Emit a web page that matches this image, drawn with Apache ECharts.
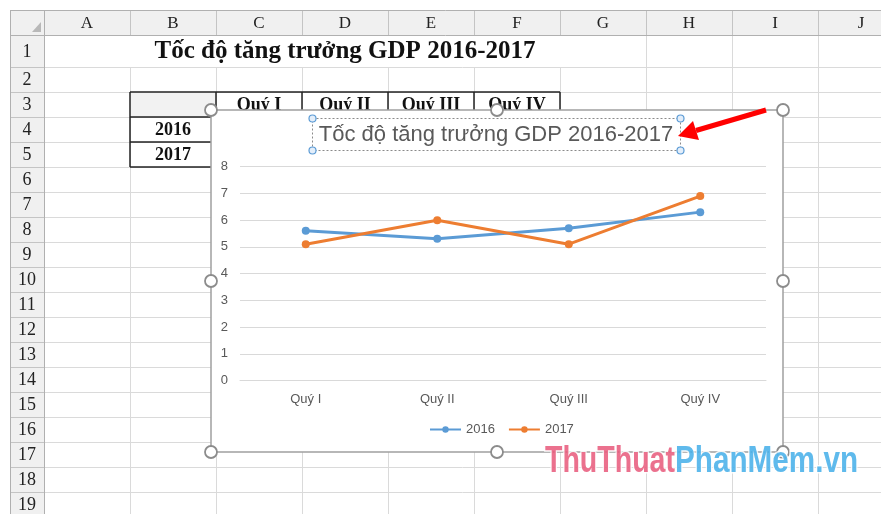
<!DOCTYPE html>
<html>
<head>
<meta charset="utf-8">
<script src="https://cdn.jsdelivr.net/npm/echarts@6/dist/echarts.min.js"></script>
<style>
  html, body { margin: 0; padding: 0; background: #fff; }
  #main { width: 881px; height: 514px; }
</style>
</head>
<body>
<div id="main"></div>
<script>
// chart data
var categories = ['Quý I', 'Quý II', 'Quý III', 'Quý IV'];
var seriesNames = ['2016', '2017'];
var gdp2016 = [5.6, 5.3, 5.7, 6.3];
var gdp2017 = [5.1, 6.0, 5.1, 6.9];
var yMin = 0, yMax = 8, yStep = 1;
var chartTitle = 'Tốc độ tăng trưởng GDP 2016-2017';

// sheet labels around the chart
var colLetters = ['A', 'B', 'C', 'D', 'E', 'F', 'G', 'H', 'I', 'J'];
var rowCount = 19;
var sheetTitle = 'Tốc độ tăng trưởng GDP 2016-2017';

var serif = '"Liberation Serif", "DejaVu Serif", serif';
var sans = '"Liberation Sans", Arial, sans-serif';

// sheet geometry
var hdrX = 10, hdrY = 10, rowHdrW = 34, colW = 86, hdrH = 25, row1H = 32, rowH = 25;
function colX(i) { return hdrX + rowHdrW + i * colW; }
function rowY(r) { return r === 1 ? hdrY + hdrH : hdrY + hdrH + row1H + (r - 2) * rowH; }

var els = [];
function line(x1, y1, x2, y2, color, w, z) {
    els.push({ type: 'line', z: z, silent: true,
        shape: { x1: x1, y1: y1, x2: x2, y2: y2 },
        style: { stroke: color, lineWidth: w } });
}
function rect(x, y, w, h, fill, z) {
    els.push({ type: 'rect', z: z, silent: true, shape: { x: x, y: y, width: w, height: h }, style: { fill: fill } });
}
function text(t, x, y, font, color, z, align) {
    els.push({ type: 'text', z: z, silent: true,
        style: { text: t, x: x, y: y, font: font, fill: color, textAlign: align || 'center', textVerticalAlign: 'middle' } });
}

// headers
rect(hdrX, hdrY, 881 - hdrX, hdrH, '#f0f0f0', -5);
rect(hdrX, hdrY + hdrH, rowHdrW, 514 - hdrY - hdrH, '#f0f0f0', -5);
els.push({ type: 'polygon', z: -4, silent: true, shape: { points: [[32, 32], [41, 32], [41, 22]] }, style: { fill: '#b8b8b8' } });

// grid lines
for (var r = 1; r <= rowCount; r++) {
    var yb = rowY(r + 1) + 0.5;
    line(colX(0), yb, 881, yb, '#dadada', 1, -4);
    line(hdrX, yb, colX(0), yb, '#c4c4c4', 1, -4);
    text(String(r), hdrX + rowHdrW / 2, rowY(r) + (r === 1 ? row1H : rowH) / 2 + 1, '18px ' + serif, '#222', -3);
}
for (var i = 0; i < colLetters.length; i++) {
    var xr = colX(i + 1) + 0.5;
    line(xr, hdrY, xr, hdrY + hdrH, '#c4c4c4', 1, -4);
    // row 1 is merged across A:G
    line(xr, i >= 6 ? rowY(1) : rowY(2), xr, 514, '#dadada', 1, -4);
    text(colLetters[i], colX(i) + colW / 2, hdrY + hdrH / 2 + 1, '17px ' + serif, '#222', -3);
}
line(hdrX, hdrY + 0.5, 881, hdrY + 0.5, '#b0b0b0', 1, -4);
line(hdrX + 0.5, hdrY, hdrX + 0.5, 514, '#b0b0b0', 1, -4);
line(hdrX, hdrY + hdrH + 0.5, 881, hdrY + hdrH + 0.5, '#b0b0b0', 1, -4);
line(colX(0) + 0.5, hdrY, colX(0) + 0.5, 514, '#b0b0b0', 1, -4);

// sheet title and the data table behind the chart
text(sheetTitle, (colX(0) + colX(7)) / 2, rowY(1) + row1H / 2 + 1, 'bold 25px ' + serif, '#111', -3);
rect(colX(1), rowY(3), colW, rowH, '#f2f2f2', -4);
for (var c = 0; c < categories.length; c++) {
    text(categories[c], colX(2 + c) + colW / 2, rowY(3) + rowH / 2 + 1, 'bold 18px ' + serif, '#111', -3);
}
for (var s = 0; s < seriesNames.length; s++) {
    text(seriesNames[s], colX(1) + colW / 2, rowY(4 + s) + rowH / 2 + 1, 'bold 18px ' + serif, '#111', -3);
}
line(colX(1), rowY(3), colX(6), rowY(3), '#222', 1.5, -3);
line(colX(1), rowY(4), colX(6), rowY(4), '#222', 1.5, -3);
line(colX(1), rowY(5), colX(2), rowY(5), '#222', 1.5, -3);
line(colX(1), rowY(6), colX(2), rowY(6), '#222', 1.5, -3);
line(colX(1), rowY(3), colX(1), rowY(6), '#222', 1.5, -3);
for (var k = 2; k <= 6; k++) line(colX(k), rowY(3), colX(k), rowY(6), '#222', 1.5, -3);

// chart area
var bx = 211, by = 110, bw = 572, bh = 342;
els.push({ type: 'rect', z: -1, silent: true, shape: { x: bx, y: by, width: bw, height: bh },
    style: { fill: '#fff', stroke: '#a0a0a0', lineWidth: 1.5 } });
[[0, 0], [0.5, 0], [1, 0], [0, 0.5], [1, 0.5], [0, 1], [0.5, 1], [1, 1]].forEach(function (p) {
    els.push({ type: 'circle', z: 10, silent: true, shape: { cx: bx + p[0] * bw, cy: by + p[1] * bh, r: 6 },
        style: { fill: '#fff', stroke: '#8c8c8c', lineWidth: 1.8 } });
});

// title with its selection box
text(chartTitle, 496, 135, '22px ' + sans, '#595959', 10);
els.push({ type: 'rect', z: 10, silent: true, shape: { x: 312.5, y: 118.5, width: 368, height: 32 },
    style: { fill: 'none', stroke: '#8a8a8a', lineWidth: 1, lineDash: [2, 2] } });
[[312.5, 118.5], [680.5, 118.5], [312.5, 150.5], [680.5, 150.5]].forEach(function (p) {
    els.push({ type: 'circle', z: 11, silent: true, shape: { cx: p[0], cy: p[1], r: 3.5 },
        style: { fill: '#e3eefa', stroke: '#5b9bd5', lineWidth: 1.2 } });
});

// red pointer
line(766, 110, 696, 130.5, '#ff0000', 5, 12);
els.push({ type: 'polygon', z: 12, silent: true, shape: { points: [[678, 136], [699, 140], [693, 121]] }, style: { fill: '#ff0000' } });

// watermark
var mctx = document.createElement('canvas').getContext('2d');
var wmFont = 'bold 36px ' + sans;
mctx.font = wmFont;
var wmParts = [['ThuThuat', '#e8587a', 545, 675], ['PhanMem.vn', '#43aee9', 675, 858]];
wmParts.forEach(function (p) {
    var sx = (p[3] - p[2]) / mctx.measureText(p[0]).width;
    els.push({ type: 'text', z: 12, silent: true, x: p[2], y: 462, scaleX: sx,
        style: { text: p[0], x: 0, y: 0, font: wmFont, fill: p[1], stroke: '#fff', lineWidth: 3,
            textAlign: 'left', textVerticalAlign: 'middle', opacity: 0.85 } });
});

var chart = echarts.init(document.getElementById('main'));
chart.setOption({
    backgroundColor: '#fff',
    animation: false,
    textStyle: { fontFamily: sans },
    graphic: { elements: els },
    legend: {
        data: seriesNames, left: 429, top: 423, padding: 0,
        itemWidth: 31, itemHeight: 8, itemGap: 13,
        textStyle: { color: '#595959', fontSize: 13 }
    },
    grid: { left: 240, right: 115, top: 166.7, bottom: 133.5 },
    xAxis: {
        type: 'category', data: categories, boundaryGap: true,
        axisLine: { lineStyle: { color: '#d9d9d9', width: 1 } },
        axisTick: { show: false },
        axisLabel: { color: '#595959', fontSize: 13, margin: 12 }
    },
    yAxis: {
        type: 'value', min: yMin, max: yMax, interval: yStep,
        axisLine: { show: false }, axisTick: { show: false },
        splitLine: { lineStyle: { color: '#d9d9d9', width: 1 } },
        axisLabel: { color: '#595959', fontSize: 13, margin: 12 }
    },
    series: [{
        name: seriesNames[0], type: 'line', data: gdp2016,
        symbol: 'circle', symbolSize: 8,
        lineStyle: { width: 3, color: '#5b9bd5' }, itemStyle: { color: '#5b9bd5' }
    }, {
        name: seriesNames[1], type: 'line', data: gdp2017,
        symbol: 'circle', symbolSize: 8,
        lineStyle: { width: 3, color: '#ed7d31' }, itemStyle: { color: '#ed7d31' }
    }]
});
</script>
</body>
</html>
